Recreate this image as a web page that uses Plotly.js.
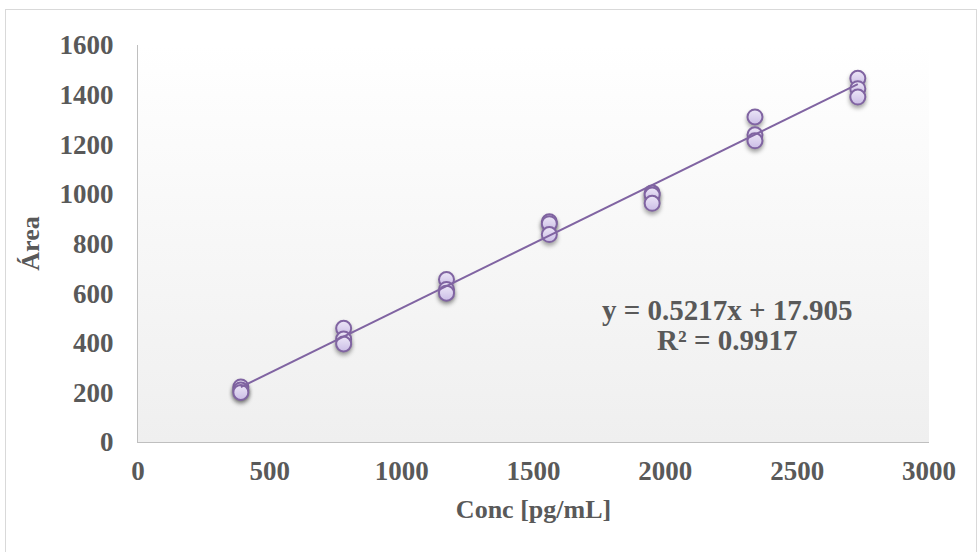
<!DOCTYPE html>
<html>
<head>
<meta charset="utf-8">
<script src="https://cdn.plot.ly/plotly-3.0.1.min.js"></script>
<style>
  html, body { margin: 0; padding: 0; background: #ffffff; }
  #wrap { position: relative; width: 979px; height: 552px; }
  #chart { width: 979px; height: 552px; }
  #frame { position: absolute; left: 5px; top: 9px; width: 972px; height: 545px;
           border: 1px solid #d9d9d9; pointer-events: none; box-sizing: border-box; }
  .scatterlayer .points path { filter: drop-shadow(0px 3px 2px rgba(0,0,0,0.35)); }
</style>
</head>
<body>
<div id="wrap">
  <div id="chart"></div>
  <div id="frame"></div>
</div>
<script>
// Calibration levels (pg/mL) and the three replicate peak areas at each level
const concLevels = [390, 780, 1170, 1560, 1950, 2340, 2730];
const areaRep1   = [222, 458, 655, 888, 1004, 1310, 1466];
const areaRep2   = [210, 415, 615, 880,  995, 1238, 1424];
const areaRep3   = [200, 395, 600, 836,  962, 1214, 1390];

// Linear fit reported on the chart
const fitSlope = 0.5217;
const fitIntercept = 17.905;
const fitR2 = 0.9917;

const xTicks = [0, 500, 1000, 1500, 2000, 2500, 3000];
const yTicks = [0, 200, 400, 600, 800, 1000, 1200, 1400, 1600];

const xs = [], ys = [];
concLevels.forEach((c, i) => {
  [areaRep1[i], areaRep2[i], areaRep3[i]].forEach(a => { xs.push(c); ys.push(a); });
});

const xMin = Math.min(...concLevels), xMax = Math.max(...concLevels);
const fitX = [xMin, xMax];
const fitY = fitX.map(x => fitSlope * x + fitIntercept);

const serif = 'Liberation Serif, Times New Roman, serif';
const grey = '#595959';
const purple = '#8064a2';

const points = {
  x: xs, y: ys, type: 'scatter', mode: 'markers',
  marker: {
    symbol: 'circle', size: 15, color: '#ece6f7',
    gradient: { type: 'vertical', color: '#cbbde6' },
    line: { color: purple, width: 2 }
  },
  hoverinfo: 'x+y', showlegend: false
};

const trend = {
  x: fitX, y: fitY, type: 'scatter', mode: 'lines',
  line: { color: purple, width: 2 },
  hoverinfo: 'skip', showlegend: false
};

const bgSvg = '<svg xmlns="http://www.w3.org/2000/svg" width="100" height="100" preserveAspectRatio="none">' +
  '<defs><linearGradient id="g" x1="0" y1="0" x2="0" y2="1">' +
  '<stop offset="0" stop-color="#ffffff"/><stop offset="1" stop-color="#efefef"/>' +
  '</linearGradient></defs><rect width="100" height="100" fill="url(#g)"/></svg>';

const tickFont = { family: serif, color: grey, size: 27, weight: 'bold' };
const titleFont = { family: serif, color: grey, size: 26, weight: 'bold' };
const eqFont = { family: serif, color: grey, size: 29, weight: 'bold' };

const layout = {
  width: 979, height: 552,
  margin: { l: 138, r: 50, t: 45, b: 110 },
  paper_bgcolor: 'rgba(0,0,0,0)',
  plot_bgcolor: 'rgba(0,0,0,0)',
  font: { family: serif, color: grey, size: 26, weight: 'bold' },
  images: [{
    source: 'data:image/svg+xml;charset=utf-8,' + encodeURIComponent(bgSvg),
    xref: 'paper', yref: 'paper', x: 0, y: 1, sizex: 1, sizey: 1,
    sizing: 'stretch', xanchor: 'left', yanchor: 'top', layer: 'below'
  }],
  xaxis: {
    range: [0, 3000], tickvals: xTicks, ticktext: xTicks.map(String),
    showgrid: false, zeroline: false, showline: true, linecolor: '#bfbfbf', linewidth: 1,
    ticks: '', ticklabelstandoff: 5,
    tickfont: tickFont,
    title: { text: 'Conc [pg/mL]', standoff: 14, font: titleFont }
  },
  yaxis: {
    range: [0, 1600], tickvals: yTicks, ticktext: yTicks.map(String),
    showgrid: false, zeroline: false, showline: true, linecolor: '#bfbfbf', linewidth: 1,
    ticks: '', ticklabelstandoff: 18,
    tickfont: tickFont,
    title: { text: 'Área', standoff: 12, font: titleFont }
  },
  annotations: [
    { xref: 'x', yref: 'y', x: 2234, y: 532, showarrow: false,
      text: 'y = ' + fitSlope + 'x + ' + fitIntercept, font: eqFont },
    { xref: 'x', yref: 'y', x: 2234, y: 410, showarrow: false,
      text: 'R² = ' + fitR2, font: eqFont }
  ]
};

Plotly.newPlot('chart', [points, trend], layout, { displayModeBar: false, staticPlot: true });
</script>
</body>
</html>
